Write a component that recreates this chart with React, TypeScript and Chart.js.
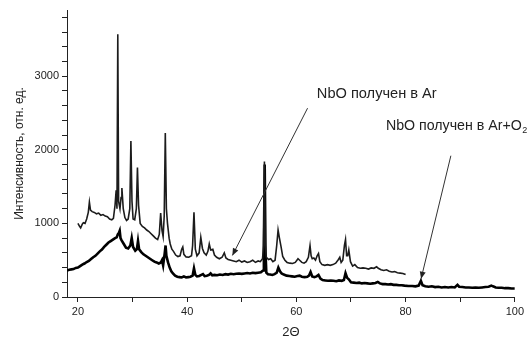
import React, { useEffect, useRef } from 'react';
import { Chart, registerables } from 'chart.js';

Chart.register(...registerables);

// NbO obtained in Ar (upper curve)
const arX = [
  20.0, 20.3, 20.5, 20.8, 21.0, 21.3, 21.6, 21.9, 22.1, 22.3, 22.6, 23.0, 23.4, 23.8, 24.2, 24.6, 25.0, 25.4, 25.8, 26.2,
  26.5, 26.8, 27.0, 27.15, 27.3, 27.45, 27.7, 27.9, 28.05, 28.3, 28.6, 28.9, 29.2, 29.5, 29.7, 29.9, 30.1, 30.4, 30.7, 30.9,
  31.1, 31.4, 31.8, 32.2, 32.6, 33.0, 33.4, 33.8, 34.2, 34.6, 34.9, 35.15, 35.4, 35.6, 35.8, 36.0, 36.2, 36.4, 36.7, 36.9,
  37.2, 37.5, 37.9, 38.3, 38.7, 39.0, 39.2, 39.4, 39.8, 40.3, 40.8, 41.0, 41.25, 41.5, 41.8, 42.2, 42.5, 42.8, 43.1, 43.5,
  43.8, 44.05, 44.3, 44.7, 45.0, 45.4, 45.9, 46.4, 46.8, 47.1, 47.5, 48.0, 48.5, 49.0, 49.5, 50.0, 50.5, 51.0, 51.5, 52.0,
  52.5, 53.0, 53.4, 53.8, 54.0, 54.15, 54.3, 54.5, 54.9, 55.3, 55.7, 56.1, 56.4, 56.65, 56.9, 57.2, 57.5, 57.9, 58.3, 58.8,
  59.3, 59.8, 60.3, 60.6, 61.0, 61.4, 61.8, 62.2, 62.5, 62.7, 62.9, 63.2, 63.5, 63.8, 64.05, 64.3, 64.7, 65.2, 65.7, 66.2,
  66.7, 67.2, 67.7, 67.95, 68.2, 68.5, 68.8, 69.0, 69.2, 69.4, 69.6, 69.9, 70.3, 70.7, 71.2, 71.7, 72.2, 72.7, 73.2, 73.7,
  74.2, 74.7, 75.0, 75.5, 76.0, 76.5, 77.0, 77.5, 78.0, 78.5, 79.0, 79.5, 80.0,
];
const arY = [
  1000, 960, 940, 990, 1010, 1000, 1060, 1150, 1290, 1180, 1160, 1150, 1130, 1140, 1110, 1120, 1100, 1090, 1060, 1050,
  1070, 1250, 1450, 1200, 3570, 1300, 1200, 1350, 1480, 1200, 1080, 1040, 1060, 1200, 2120, 1300, 1060, 1050, 1200, 1760,
  1250, 1000, 960, 940, 910, 890, 860, 830, 800, 780, 850, 1140, 900, 820, 1100, 2230, 1200, 1000, 800, 720,
  650, 620, 570, 550, 560, 650, 680, 580, 545, 540, 560, 700, 1150, 650, 560, 600, 810, 660, 600, 570,
  620, 720, 640, 650, 570, 540, 520, 540, 600, 530, 510, 500, 490, 480, 500, 475, 490, 470, 480, 500,
  470, 490, 480, 520, 700, 1840, 700, 540, 510, 520, 480, 500, 700, 910, 800, 680, 550, 500, 470, 460,
  455, 470, 520, 500, 470, 460, 480, 540, 700, 560, 520, 530, 500, 560, 590, 480, 440, 430, 440, 430,
  440, 460, 510, 540, 470, 500, 700, 780, 560, 560, 640, 480, 420, 440, 400, 390, 395, 390, 380, 395,
  390, 410, 390, 370, 360, 370, 350, 340, 345, 330, 325, 320, 305,
];

// NbO obtained in Ar+O2 (lower curve)
const o2X = [
  18.0, 18.4, 18.8, 19.2, 19.6, 20.0, 20.4, 20.8, 21.2, 21.6, 22.0, 22.4, 22.8, 23.2, 23.6, 24.0, 24.4, 24.8, 25.2, 25.6,
  26.0, 26.4, 26.8, 27.1, 27.3, 27.5, 27.65, 27.8, 28.0, 28.4, 28.8, 29.2, 29.6, 29.85, 30.1, 30.5, 30.8, 31.0, 31.2, 31.6,
  32.0, 32.4, 32.8, 33.2, 33.6, 34.0, 34.4, 34.8, 35.2, 35.4, 35.6, 35.9, 36.05, 36.2, 36.5, 36.8, 37.1, 37.4, 37.8, 38.2,
  38.6, 39.0, 39.4, 39.8, 40.2, 40.6, 41.0, 41.25, 41.5, 41.8, 42.2, 42.6, 42.9, 43.2, 43.6, 44.0, 44.3, 44.6, 45.0, 45.5,
  46.0, 46.5, 47.0, 47.5, 48.0, 48.5, 49.0, 49.5, 50.0, 50.5, 51.0, 51.5, 52.0, 52.5, 53.0, 53.5, 53.9, 54.05, 54.2, 54.35,
  54.5, 54.8, 55.2, 55.6, 56.0, 56.4, 56.7, 57.0, 57.3, 57.7, 58.2, 58.7, 59.2, 59.7, 60.2, 60.6, 61.0, 61.5, 62.0, 62.3,
  62.6, 62.9, 63.3, 63.7, 64.05, 64.4, 64.8, 65.3, 65.8, 66.3, 66.8, 67.3, 67.8, 68.3, 68.7, 69.0, 69.3, 69.6, 70.0, 70.5,
  71.0, 71.5, 72.0, 72.5, 73.0, 73.5, 74.0, 74.5, 74.9, 75.3, 75.8, 76.3, 76.8, 77.3, 77.8, 78.3, 78.8, 79.3, 79.8, 80.5,
  81.2, 81.8, 82.4, 82.8, 83.1, 83.6, 84.2, 84.8, 85.4, 86.0, 86.6, 87.2, 87.8, 88.4, 89.0, 89.5, 89.8, 90.4, 91.0, 91.6,
  92.2, 92.8, 93.4, 94.0, 94.6, 95.2, 95.7, 96.0, 96.5, 97.0, 97.6, 98.2, 98.8, 99.4, 100.0,
];
const o2Y = [
  360, 370, 375, 380, 395, 400, 420, 440, 455, 475, 490, 515, 540, 560, 590, 620, 645, 680, 710, 740,
  760, 780, 800, 810, 850, 870, 900, 800, 770, 720, 670, 660, 700, 800, 680, 630, 650, 760, 650, 610,
  580, 560, 540, 520, 500, 480, 470, 455, 470, 500, 430, 600, 700, 560, 470, 400, 350, 320, 290, 275,
  270, 265, 280, 265, 270, 275, 290, 390, 300, 280, 285, 300, 310, 285, 290, 300, 320, 295, 300, 295,
  305, 300, 310, 305, 315, 310, 315, 320, 315, 320, 325, 320, 330, 325, 330, 335, 360, 700, 1800, 600,
  330, 310, 305, 300, 310, 330, 400, 350, 320, 305, 290, 285, 280, 275, 285, 290, 275, 270, 275, 290,
  340, 280, 270, 280, 300, 250, 230, 225, 220, 225, 220, 215, 225, 220, 230, 325, 260, 240, 200, 195,
  190, 195, 185, 190, 185, 180, 185, 190, 205, 185, 175, 175, 170, 175, 165, 165, 160, 160, 155, 150,
  150, 145, 155, 220, 160, 145, 140, 145, 135, 140, 130, 135, 130, 135, 130, 165, 140, 135, 130, 130,
  125, 130, 125, 130, 135, 140, 155, 145, 130, 125, 125, 120, 120, 115, 115,
];

const xLabelValues = [20, 40, 60, 80, 100];
const yLabelValues = [0, 1000, 2000, 3000];
const xTitle = '2Θ';
const yTitle = 'Интенсивность, отн. ед.';

const noteAr = 'NbO получен в Ar';
const noteO2 = 'NbO получен в Ar+O';
const noteO2Sub = '2';
// annotation anchors in data units [2θ, intensity]
const noteArPos = [63.75, 2753];
const noteO2Pos = [76.4, 2327];
const arrowAr = [[62.05, 2566], [48.29, 565]];
const arrowO2 = [[88.29, 1920], [82.84, 249]];

const FONT = "'Liberation Sans', Arial, sans-serif";

const notesPlugin = {
  id: 'notes',
  afterDraw(chart: any) {
    const { ctx } = chart;
    const xs = chart.scales.x;
    const ys = chart.scales.y;
    const px = (p: number[]) => [xs.getPixelForValue(p[0]), ys.getPixelForValue(p[1])];
    ctx.save();
    const drawArrow = (a: number[][]) => {
      const [x1, y1] = px(a[0]);
      const [x2, y2] = px(a[1]);
      ctx.strokeStyle = '#333';
      ctx.lineWidth = 1;
      ctx.beginPath();
      ctx.moveTo(x1, y1);
      ctx.lineTo(x2, y2);
      ctx.stroke();
      const ang = Math.atan2(y2 - y1, x2 - x1);
      const len = 7;
      const w = 3;
      ctx.fillStyle = '#222';
      ctx.beginPath();
      ctx.moveTo(x2, y2);
      ctx.lineTo(x2 - len * Math.cos(ang) + w * Math.sin(ang), y2 - len * Math.sin(ang) - w * Math.cos(ang));
      ctx.lineTo(x2 - len * Math.cos(ang) - w * Math.sin(ang), y2 - len * Math.sin(ang) + w * Math.cos(ang));
      ctx.closePath();
      ctx.fill();
    };
    drawArrow(arrowAr);
    drawArrow(arrowO2);
    ctx.fillStyle = '#222';
    ctx.font = `14.6px ${FONT}`;
    ctx.textBaseline = 'middle';
    ctx.textAlign = 'left';
    const [tx1, ty1] = px(noteArPos);
    ctx.fillText(noteAr, tx1, ty1);
    ctx.font = `14.2px ${FONT}`;
    const [tx2, ty2] = px(noteO2Pos);
    ctx.fillText(noteO2, tx2, ty2);
    const w2 = ctx.measureText(noteO2).width;
    ctx.font = `9px ${FONT}`;
    ctx.fillText(noteO2Sub, tx2 + w2 + 0.5, ty2 + 5);
    ctx.restore();
  },
};

export default function App() {
  const ref = useRef<HTMLCanvasElement>(null);
  useEffect(() => {
    document.body.style.margin = '0';
    const canvas = ref.current;
    if (!canvas) return;
    const chart = new Chart(canvas, {
      type: 'line',
      data: {
        datasets: [
          {
            data: arX.map((x, i) => ({ x, y: arY[i] })),
            borderColor: '#1c1c1c',
            borderWidth: 1.6,
            pointRadius: 0,
            tension: 0,
            fill: false,
          },
          {
            data: o2X.map((x, i) => ({ x, y: o2Y[i] })),
            borderColor: '#000',
            borderWidth: 2.6,
            pointRadius: 0,
            tension: 0,
            fill: false,
          },
        ],
      },
      options: {
        animation: false,
        responsive: false,
        events: [],
        layout: { padding: { left: 8, top: 10, right: 9, bottom: 0 } },
        plugins: { legend: { display: false }, tooltip: { enabled: false } },
        scales: {
          x: {
            type: 'linear',
            min: 18,
            max: 100,
            border: { display: true, color: '#222', width: 1 },
            grid: { drawOnChartArea: false, color: '#222', tickLength: 5 },
            ticks: {
              stepSize: 10,
              includeBounds: false,
              autoSkip: false,
              maxRotation: 0,
              padding: 3,
              color: '#222',
              font: { family: FONT, size: 11 },
              callback: (v: any) => (xLabelValues.includes(Number(v)) ? String(v) : ''),
            },
            title: { display: true, text: xTitle, color: '#222', font: { family: FONT, size: 13 }, padding: { top: 0, bottom: 0 } },
            afterFit: (s: any) => { s.height = 43; },
          },
          y: {
            type: 'linear',
            min: 0,
            max: 3900,
            border: { display: true, color: '#222', width: 1 },
            grid: { drawOnChartArea: false, color: '#222', tickLength: 5 },
            ticks: {
              stepSize: 200,
              includeBounds: false,
              autoSkip: false,
              padding: 3,
              color: '#222',
              font: { family: FONT, size: 11 },
              callback: (v: any) => (yLabelValues.includes(Number(v)) ? String(v) : ''),
            },
            title: { display: true, text: yTitle, color: '#222', font: { family: FONT, size: 12 }, padding: { top: 4, bottom: 0 } },
            afterFit: (s: any) => { s.width = 59; },
          },
        },
      },
      plugins: [notesPlugin],
    });
    return () => chart.destroy();
  }, []);
  return <canvas ref={ref} width={527} height={340} style={{ display: 'block' }} />;
}
